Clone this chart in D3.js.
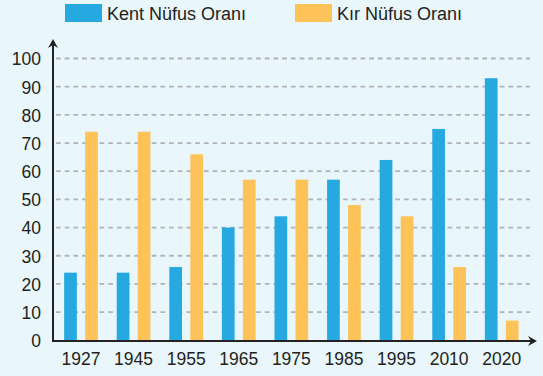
<!DOCTYPE html>
<html>
<head>
<meta charset="utf-8">
<script src="https://cdn.jsdelivr.net/npm/d3@7"></script>
<style>
  html, body { margin: 0; padding: 0; background: #e9f6fc; }
  svg { display: block; font-family: "Liberation Sans", Arial, sans-serif; }
</style>
</head>
<body>
<svg id="chart" width="543" height="376"></svg>
<script>
// Population share data (percent)
const years = ["1927", "1945", "1955", "1965", "1975", "1985", "1995", "2010", "2020"];
const urban = [24, 24, 26, 40, 44, 57, 64, 75, 93];
const rural = [74, 74, 66, 57, 57, 48, 44, 26, 7];
const yTicks = [0, 10, 20, 30, 40, 50, 60, 70, 80, 90, 100];
const seriesNames = ["Kent Nüfus Oranı", "Kır Nüfus Oranı"];
const colors = ["#25a9e0", "#fdc358"];

const svg = d3.select("#chart");
const axisX = 53, baseY = 341;

const x = d3.scaleBand().domain(years).range([54.7, 528]).padding(0);
const y = d3.scaleLinear().domain([0, 100]).range([340.3, 58.5]);

// Dashed horizontal grid
svg.append("g").selectAll("line").data(yTicks.slice(1)).join("line")
  .attr("x1", 56).attr("x2", 530)
  .attr("y1", d => y(d)).attr("y2", d => y(d))
  .attr("stroke", "#b1b3b8").attr("stroke-width", 1.8)
  .attr("stroke-dasharray", "4.7,4");

// Bars
const barW = 12.7, gap = 8.3;
const groups = svg.append("g").selectAll("g").data(years).join("g")
  .attr("transform", d => `translate(${x(d) + x.bandwidth() / 2},0)`);
groups.append("rect")
  .attr("x", -gap / 2 - barW).attr("width", barW)
  .attr("y", (d, i) => y(urban[i])).attr("height", (d, i) => baseY - y(urban[i]))
  .attr("fill", colors[0]);
groups.append("rect")
  .attr("x", gap / 2).attr("width", barW)
  .attr("y", (d, i) => y(rural[i])).attr("height", (d, i) => baseY - y(rural[i]))
  .attr("fill", colors[1]);

// Axes lines with arrowheads
svg.append("line").attr("x1", axisX).attr("x2", axisX).attr("y1", 44).attr("y2", baseY + 1)
  .attr("stroke", "#222").attr("stroke-width", 2);
svg.append("path").attr("d", `M${axisX - 5},48 L${axisX},39 L${axisX + 5},48 L${axisX},45 Z`).attr("fill", "#222");
svg.append("line").attr("x1", axisX - 1).attr("x2", 532).attr("y1", baseY).attr("y2", baseY)
  .attr("stroke", "#222").attr("stroke-width", 2);
svg.append("path").attr("d", `M528,${baseY - 5} L537,${baseY} L528,${baseY + 5} L531,${baseY} Z`).attr("fill", "#222");

// Y tick labels
const yAxis = d3.axisLeft(y).tickValues(yTicks).tickSize(0).tickPadding(0);
const gy = svg.append("g").attr("transform", "translate(41,0.8)").call(yAxis);
gy.select(".domain").remove();
gy.selectAll("text").attr("font-size", 17.5).attr("fill", "#231f20")
  .attr("font-family", "Liberation Sans, Arial, sans-serif");

// X tick labels
const xAxis = d3.axisBottom(x).tickSize(0).tickPadding(0);
const gx = svg.append("g").attr("transform", `translate(0,${baseY + 12})`).call(xAxis);
gx.select(".domain").remove();
gx.selectAll("text").attr("font-size", 17.5).attr("fill", "#231f20")
  .attr("font-family", "Liberation Sans, Arial, sans-serif");

// Legend
const legendX = [65, 295];
const legend = svg.append("g").selectAll("g").data(seriesNames).join("g")
  .attr("transform", (d, i) => `translate(${legendX[i]},4)`);
legend.append("rect").attr("width", 37).attr("height", 18).attr("fill", (d, i) => colors[i]);
legend.append("text").attr("x", 42).attr("y", 15.5).attr("font-size", 18)
  .attr("fill", "#231f20").text(d => d);
</script>
</body>
</html>
